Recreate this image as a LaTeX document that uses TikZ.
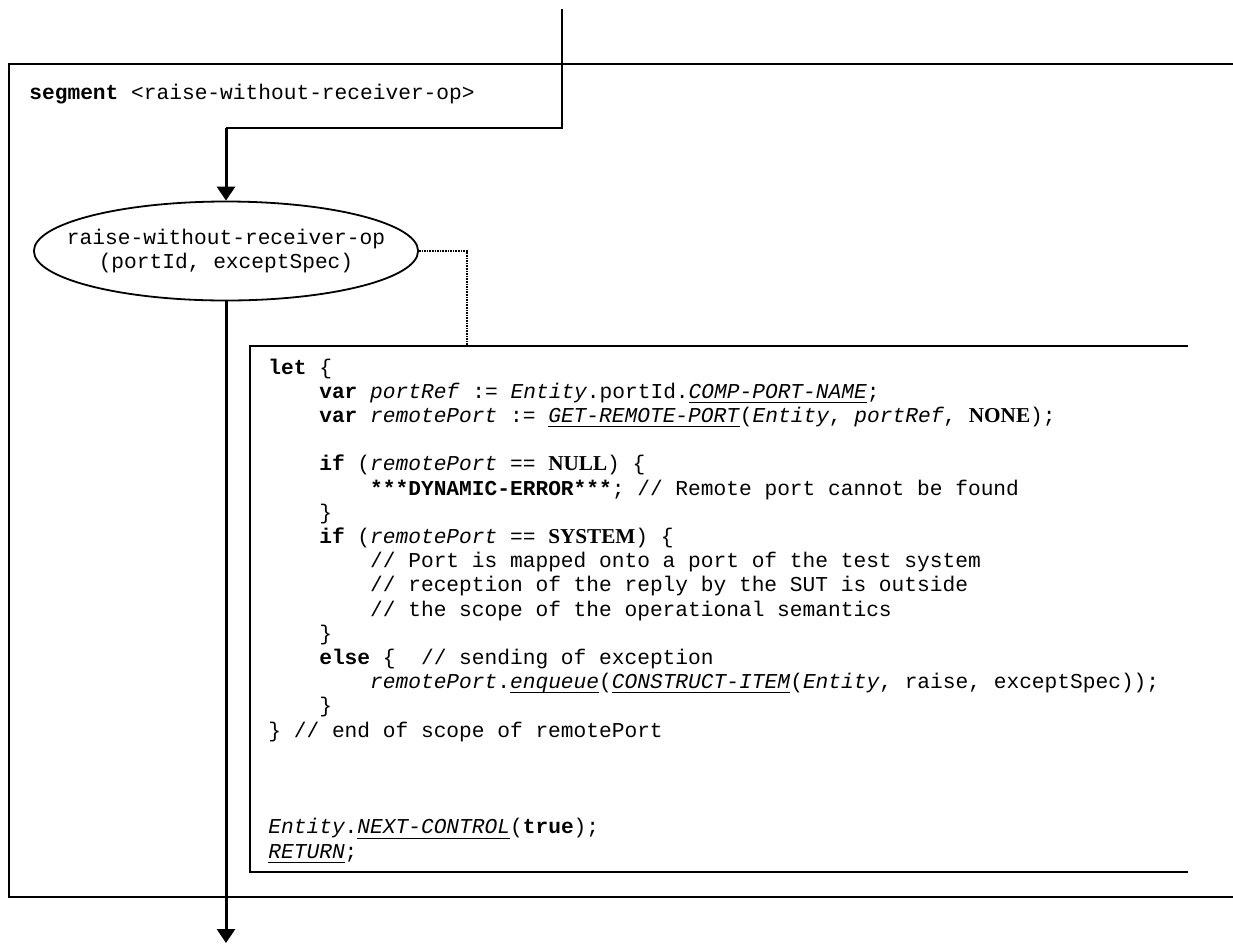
\documentclass[tikz,border=0pt]{standalone}
\usepackage{fontspec}
\setmonofont{Liberation Mono}
\newfontfamily\serifbf{Liberation Serif}
\usepackage{tikz}
\usetikzlibrary{positioning, arrows.meta, shapes.geometric}

\newcommand\codefont{\ttfamily\fontsize{10.6pt}{12.1pt}\selectfont}
\newcommand\kwd[1]{\textbf{#1}}
\newcommand\kval[1]{{\serifbf\bfseries #1}}
\newcommand\ivar[1]{\textit{#1}}
\newcommand\ifun[1]{\setbox0\hbox{\textit{#1}}\rlap{\rule[-2.4pt]{\wd0}{0.55pt}}\box0}

\begin{document}
\begin{tikzpicture}[x=0.5pt,y=-0.5pt,
  thinline/.style={line width=0.7pt},
  flow/.style={line width=1.5pt,-{Triangle[width=9pt,length=7pt]}},
  dotline/.style={line width=1.3pt,dash pattern=on 0.8pt off 0.5pt},
  opnode/.style={draw,ellipse,line width=0.9pt,minimum width=192pt,minimum height=49.5pt,inner xsep=-11.6pt,inner ysep=0pt,align=center,font=\codefont},
  every node/.style={inner sep=0pt}]
  \useasboundingbox (0,0) rectangle (1233,944);

  % frame of the segment
  \draw[thinline] (1240,64) -| (9,897) -- (1240,897);
  \node[anchor=base west,font=\codefont] (title) at (29,99) {\kwd{segment} <raise-without-receiver-op>};

  \node[opnode] (op) at (226,251) {raise-without-receiver-op\\(portId, exceptSpec)};

  \coordinate (entry) at (562,9);
  \coordinate (bend) at (226,128);
  \coordinate (exit) at (226,943);
  \coordinate (cbtop) at (467,346);

  \draw[thinline] (entry) |- (bend);
  \draw[flow] (bend) -- (op.north);
  \draw[flow] (op.south) -- (exit);

  % code box
  \draw[line width=0.9pt] (1188,346) -| (250,872) -- (1188,872);
  \draw[dotline] (op.east) -| (cbtop);

  % base anchor sits on the last line (RETURN)
  \node[anchor=base west,align=left,font=\codefont] (code) at (268,858) {%
\kwd{let} \{\\
~~~~\kwd{var} \ivar{portRef} := \ivar{Entity}.portId.\ifun{COMP-PORT-NAME};\\
~~~~\kwd{var} \ivar{remotePort} := \ifun{GET-REMOTE-PORT}(\ivar{Entity}, \ivar{portRef}, \kval{NONE});\\
\\
~~~~\kwd{if} (\ivar{remotePort} == \kval{NULL}) \{\\
~~~~~~~~\kwd{***DYNAMIC-ERROR***}; // Remote port cannot be found\\
~~~~\}\\
~~~~\kwd{if} (\ivar{remotePort} == \kval{SYSTEM}) \{\\
~~~~~~~~// Port is mapped onto a port of the test system\\
~~~~~~~~// reception of the reply by the SUT is outside\\
~~~~~~~~// the scope of the operational semantics\\
~~~~\}\\
~~~~\kwd{else} \{~~// sending of exception\\
~~~~~~~~\ivar{remotePort}.\ifun{enqueue}(\ifun{CONSTRUCT-ITEM}(\ivar{Entity}, raise, exceptSpec));\\
~~~~\}\\
\} // end of scope of remotePort\\
\\
\\
\\
\ivar{Entity}.\ifun{NEXT-CONTROL}(\kwd{true});\\
\ifun{RETURN};};
\end{tikzpicture}
\end{document}
